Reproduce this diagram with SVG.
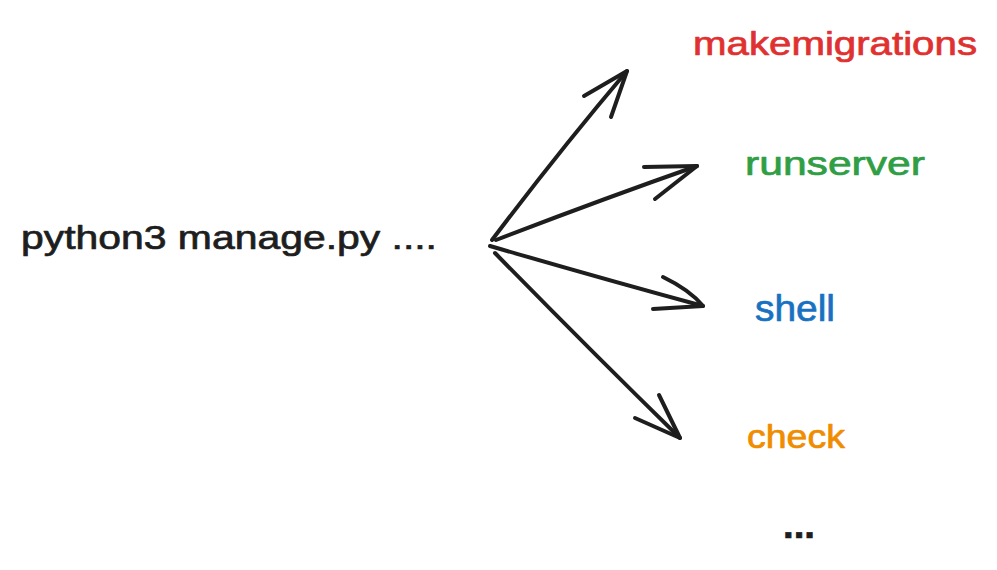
<svg xmlns="http://www.w3.org/2000/svg" width="997" height="570" viewBox="0 0 997 570">
<style>
.t{font-family:"Liberation Sans",Arial,sans-serif;font-size:33px;stroke-width:0.7;stroke-linejoin:round}
.a{fill:none;stroke:#1e1e1e;stroke-width:4;stroke-linecap:round;stroke-linejoin:round}
</style>
<rect width="997" height="570" fill="#ffffff"/>
<g id="source"><text class="t" x="21" y="249" fill="#1e1e1e" stroke="#1e1e1e" textLength="416" lengthAdjust="spacingAndGlyphs">python3 manage.py ....</text></g>
<g id="makemigrations"><text class="t" x="693" y="55" fill="#e03131" stroke="#e03131" textLength="284" lengthAdjust="spacingAndGlyphs">makemigrations</text></g>
<g id="runserver"><text class="t" x="745" y="175" fill="#2f9e44" stroke="#2f9e44" textLength="180" lengthAdjust="spacingAndGlyphs">runserver</text></g>
<g id="shell"><text class="t" x="755" y="321" fill="#1971c2" stroke="#1971c2" textLength="80" lengthAdjust="spacingAndGlyphs" style="font-size:37px">shell</text></g>
<g id="check"><text class="t" x="747" y="448" fill="#f08c00" stroke="#f08c00" textLength="98" lengthAdjust="spacingAndGlyphs">check</text></g>
<g id="more"><text class="t" x="783" y="538" fill="#1e1e1e" stroke="#1e1e1e" textLength="32" lengthAdjust="spacingAndGlyphs" style="font-weight:bold;font-size:36px">...</text></g>
<g id="connectors">
<path class="a" d="M492 240 Q560 150 627 71"/>
<path class="a" d="M584 96 L627 71 L611 117"/>
<path class="a" d="M496 240 Q600 200 697 166"/>
<path class="a" d="M644 167 L697 166 L655 199"/>
<path class="a" d="M490 246 Q600 278 703 306"/>
<path class="a" d="M663 277 Q690 290 703 306 L653 309"/>
<path class="a" d="M495 253 Q590 350 680 438"/>
<path class="a" d="M659 395 L680 438 L635 418"/>
</g>
</svg>
